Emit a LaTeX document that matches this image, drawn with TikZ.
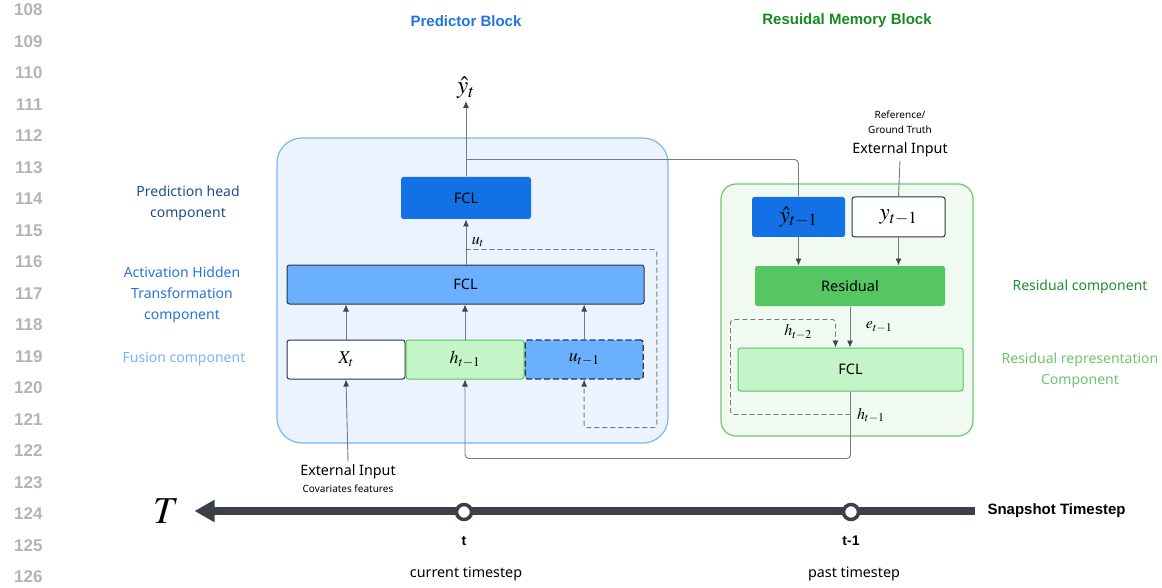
\documentclass[tikz,border=0pt]{standalone}
\usepackage{mathptmx}
\usepackage{fontspec}
\setmainfont{Noto Sans}
\newfontfamily\numfont{Liberation Sans}
\usetikzlibrary{arrows.meta,calc,positioning}

\definecolor{numgray}{HTML}{B4B4B4}
\definecolor{pbfill}{HTML}{EBF4FE}
\definecolor{pbdraw}{HTML}{7DB6F2}
\definecolor{rbfill}{HTML}{F0FAF0}
\definecolor{rbdraw}{HTML}{6CC971}
\definecolor{headblue}{HTML}{1271E4}
\definecolor{hidblue}{HTML}{6BB0FF}
\definecolor{lightgreen}{HTML}{C4F5C9}
\definecolor{greenline}{HTML}{5CC35C}
\definecolor{resgreen}{HTML}{55C662}
\definecolor{boxline}{HTML}{2B3440}
\definecolor{arrowgray}{HTML}{767B82}
\definecolor{arrowdark}{HTML}{3F4650}
\definecolor{tline}{HTML}{3B4049}
\definecolor{titleblue}{HTML}{1F74E0}
\definecolor{titlegreen}{HTML}{168A1E}
\definecolor{headtxt}{HTML}{1F4E8C}
\definecolor{hidtxt}{HTML}{2774D8}
\definecolor{fustxt}{HTML}{7BB3F0}
\definecolor{restxt}{HTML}{1E8E2A}
\definecolor{reptxt}{HTML}{6CC66C}

\tikzset{
  lay/.style={draw=boxline,line width=1pt,rounded corners=2.5pt,inner sep=0pt,
    font=\fontsize{14.5}{16}\selectfont},
  arr/.style={draw=arrowgray,line width=0.9pt,
    -{Latex[length=7pt,width=6pt,color=arrowdark]}},
  dsh/.style={draw=arrowgray,line width=0.9pt,dash pattern=on 5pt off 3pt,rounded corners=3pt},
  side/.style={font=\fontsize{14}{21}\selectfont,align=center},
  ttl/.style={font=\numfont\bfseries\fontsize{15}{17}\selectfont},
  small/.style={font=\fontsize{10}{15}\selectfont,align=center},
  mth/.style={font=\fontsize{18}{20}\selectfont},
  plain/.style={font=\fontsize{14.3}{16}\selectfont},
  tick/.style={circle,fill=white,draw=tline,line width=3.5pt,minimum size=15pt,inner sep=0pt}
}

\begin{document}
\begin{tikzpicture}[x=1pt,y=-1pt]
\useasboundingbox (0,0) rectangle (1162,588);

% line numbers
\foreach \n [count=\i from 0] in {108,...,126}
  \node[anchor=east,text=numgray,font=\numfont\bfseries\fontsize{17}{17}\selectfont] at (46,10+31.5*\i) {\n};

% titles
\node[ttl,text=titleblue] (ptitle) at (466,21) {Predictor Block};
\node[ttl,text=titlegreen] (rtitle) at (847,21) {Resuidal Memory Block};

% blocks
\node[draw=pbdraw,fill=pbfill,line width=1.2pt,rounded corners=25pt,minimum width=391pt,minimum height=305pt] (pb) at (472.5,290.5) {};
\node[draw=rbdraw,fill=rbfill,line width=1.2pt,rounded corners=15pt,minimum width=252pt,minimum height=252pt] (rb) at (847,310) {};

% predictor block
\node[lay,fill=headblue,draw=none,minimum width=130pt,minimum height=42pt] (head) at (466,198) {FCL};
\node[lay,fill=hidblue,minimum width=357pt,minimum height=39pt] (hid) at (465.5,284.5) {FCL};
\node[lay,mth,fill=white,minimum width=118pt,minimum height=39pt] (xt) at (346,359.5) {$X_t$};
\node[lay,mth,fill=lightgreen,draw=greenline,minimum width=118pt,minimum height=39pt,right=0pt of xt] (ht) {$h_{t-1}$};
\node[lay,mth,fill=hidblue,dash pattern=on 6pt off 3pt,line width=1.3pt,minimum width=118pt,minimum height=39pt,right=0pt of ht] (ut) {$u_{t-1}$};

\draw[arr] (xt.north) -- (xt.north |- hid.south);
\draw[arr] (ht.north) -- (ht.north |- hid.south);
\draw[arr] (ut.north) -- (ut.north |- hid.south);
\draw[arr] (hid.north -| head) -- (head.south) node[midway,right=2pt,font=\fontsize{16}{18}\selectfont]{$u_t$};

\node[anchor=south,font=\fontsize{25}{27}\selectfont,inner sep=2pt] (yt) at (466,101) {$\hat{y}_t$};
\draw[arr] (head.north) -- (yt.south);
\coordinate (br) at ($(head.north)+(0,-17)$);

% recurrent u
\coordinate (us) at ($(hid.north)+(0,-15)$);
\coordinate (uc) at ($(ut.south east)+(13,48)$);
\draw[dsh,-{Latex[length=7pt,width=6pt,color=arrowdark]}] (us) -| (uc) -| (ut.south);

% external input
\node[plain] (ext1) at (348,472) {External Input};
\node[small] (cov) at (348,489) {Covariates features};
\draw[arr] (ext1.north) -- (xt.south);

% residual memory block
\node[lay,fill=headblue,draw=none,minimum width=93pt,minimum height=40pt,font=\fontsize{23}{25}\selectfont] (yh1) at (798.5,217) {$\hat{y}_{t-1}$};
\node[lay,fill=white,minimum width=93pt,minimum height=40pt,font=\fontsize{23}{25}\selectfont] (y1) at (898.5,217) {$y_{t-1}$};
\node[lay,fill=resgreen,draw=none,minimum width=190pt,minimum height=40pt] (res) at (850,286) {Residual};
\node[lay,fill=lightgreen,draw=greenline,minimum width=225pt,minimum height=43pt] (rfcl) at (850.5,369.5) {FCL};

\node[small] (ref) at (900,122) {Reference/\\Ground Truth};
\node[plain] (ext2) at (900,150) {External Input};
\draw[draw=arrowgray,line width=0.9pt] (ext2.south) -- (y1.north);
\draw[draw=arrowgray,line width=0.9pt,rounded corners=4pt] (br) -| (yh1.north);

\draw[arr] (yh1.south) -- (yh1.south |- res.north);
\draw[arr] (y1.south) -- (y1.south |- res.north);
\draw[arr] (res.south) -- (res.south |- rfcl.north) node[midway,right=12pt,font=\fontsize{16}{18}\selectfont]{$e_{t-1}$};

% recurrent h
\coordinate (hb) at ($(rfcl.south)+(0,23)$);
\coordinate (hl) at ($(rfcl.west)+(-7,-50)$);
\coordinate (hr) at ($(rfcl.north)+(-15,0)$);
\draw[dsh,-{Latex[length=7pt,width=6pt,color=arrowdark]}] (hb) -| (hl) -| (hr);
\node[font=\fontsize{16}{18}\selectfont] (h2) at (798,332) {$h_{t-2}$};
\node[font=\fontsize{16}{18}\selectfont,anchor=west] (h1) at ($(hb)+(3,1)$) {$h_{t-1}$};

\draw[arr,rounded corners=4pt] (rfcl.south) |- ($(ht.south)+(0,79)$) -- (ht.south);

% side labels
\node[side,text=headtxt] (lhead) at (188,203) {Prediction head\\component};
\node[side,text=hidtxt] (lhid) at (182,295) {Activation Hidden\\Transformation\\component};
\node[side,text=fustxt] (lfus) at (184,359) {Fusion component};
\node[side,text=restxt] (lres) at (1080,287) {Residual component};
\node[side,text=reptxt] (lrep) at (1080,370) {Residual representation\\Component};

% timeline
\node[font=\fontsize{38}{40}\selectfont] (T) at (166,511) {$T$};
\node[anchor=west,font=\numfont\bfseries\fontsize{15}{17}\selectfont] (snap) at (984,511) {Snapshot Timestep};
\draw[draw=tline,line width=8pt,shorten <=9pt,shorten >=12pt,-{Triangle[length=20pt,width=21pt]}] (snap.west) -- (T.east);
\node[tick] (tc) at (464,512) {};
\node[tick] (pc) at (851,512) {};
\node[font=\numfont\bfseries\fontsize{14}{16}\selectfont] (tt) at (464,541) {t};
\node[font=\numfont\bfseries\fontsize{14}{16}\selectfont] (tp) at (851,541) {t-1};
\node[plain] (cur) at (466,574) {current timestep};
\node[plain] (past) at (854,574) {past timestep};
\end{tikzpicture}
\end{document}
